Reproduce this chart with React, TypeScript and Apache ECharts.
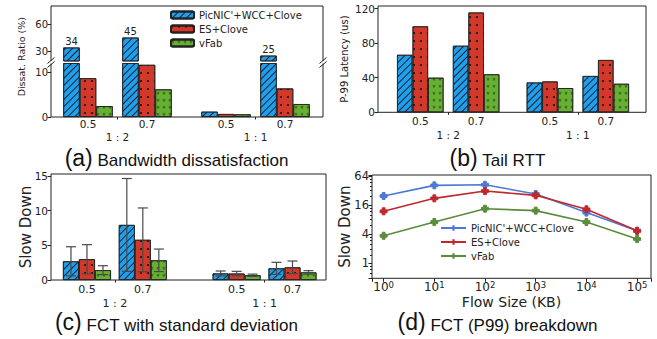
import React, { useEffect, useRef } from 'react';
import * as echarts from 'echarts';

// ---------- data ----------
const METHODS = ["PicNIC'+WCC+Clove", 'ES+Clove', 'vFab'];
const RATIO_LABELS = ['0.5', '0.7', '0.5', '0.7'];
const GROUP_LABELS = ['1 : 2', '1 : 1'];

// (a) Bandwidth dissatisfaction (%)
const dissatPicnic = [34, 45, 1.2, 25];
const dissatEs = [8.7, 11.7, 0.67, 6.4];
const dissatVfab = [2.44, 6.2, 0.6, 2.9];
const dissatUpperTicks = [30, 60];
const dissatLowerTicks = [0, 10];

// (b) Tail RTT (us)
const rttPicnic = [66.5, 77, 34.5, 42];
const rttEs = [99.5, 115.5, 35.7, 60.5];
const rttVfab = [40, 44, 28, 33];
const rttTicks = [0, 40, 80, 120];

// (c) FCT with standard deviation
const fctPicnic = [2.7, 7.95, 0.95, 1.68];
const fctPicnicStd = [2.1, 6.7, 0.35, 0.87];
const fctEs = [3.0, 5.8, 0.93, 1.83];
const fctEsStd = [2.1, 4.6, 0.32, 0.91];
const fctVfab = [1.42, 2.84, 0.68, 1.1];
const fctVfabStd = [0.64, 1.63, 0.17, 0.25];
const fctTicks = [0, 5, 10, 15];

// (d) FCT (P99) breakdown
const flowSizes = [1, 10, 100, 1000, 10000, 100000];
const p99Picnic = [24.7, 41, 42.2, 27.2, 11.2, 4.72];
const p99Es = [11.9, 22.1, 31.3, 25.5, 13.1, 4.7];
const p99Vfab = [3.72, 7.14, 13.5, 12.3, 7.14, 3.18];

// ---------- layout / style ----------
const POS_A = [0, 1, 2.34, 3.34];
const POS_B = [0, 1, 2.32, 3.32];
const POS_C = [0, 1, 2.68, 3.68];
const FONT = 'DejaVu Sans';
const TITLE_FONT = 'Liberation Sans';
const TXT = '#222';
const COLORS = ['#1f9fee', '#d2392b', '#66b032'];
const LINE_COLORS = ['#4d78d6', '#c0282b', '#5a8c3c'];
const STAR =
  'path://M5,0 L6.2,3.5 L10,3.6 L7,5.9 L8.1,9.5 L5,7.4 L1.9,9.5 L3,5.9 L0,3.6 L3.8,3.5 Z';
const PLUS = 'path://M3,0H7V3H10V7H7V10H3V7H0V3H3Z';
const DECALS: any[] = [
  { symbol: 'rect', symbolSize: 1, color: 'rgba(20,20,20,0.9)', dashArrayX: [1, 0], dashArrayY: [1, 3.7], rotation: -Math.PI / 4 },
  { symbol: 'circle', symbolSize: 1, color: 'rgba(15,15,15,0.95)', dashArrayX: [1.6, 4.4], dashArrayY: [1.6, 5.7], rotation: 0 },
  { symbol: STAR, symbolSize: 1, color: 'rgba(10,30,5,0.5)', dashArrayX: [4, 2], dashArrayY: [4, 3], rotation: 0 },
];

const A = { left: 51, right: 323, upTop: 6, upBottom: 61, lowTop: 63.5, lowBottom: 117 };
const A_UP_MIN = 19;

const centres = (pos: number[]) => [(pos[0] + pos[1]) / 2, (pos[2] + pos[3]) / 2];
const labelAt = (pos: number[], v: number, labels: string[]) => {
  let best = 0;
  pos.forEach((p, i) => {
    if (Math.abs(p - v) < Math.abs(pos[best] - v)) best = i;
  });
  return labels[best];
};

function barStyle(k: number) {
  return { color: COLORS[k], borderColor: '#222', borderWidth: 0.8, decal: DECALS[k] };
}

function mainX(gridIndex: number, pos: number[], min: number, max: number, margin: number, fontSize: number) {
  return {
    type: 'value', gridIndex, min, max, position: 'bottom',
    axisLine: { show: false, onZero: false }, splitLine: { show: false },
    axisTick: { show: true, customValues: centres(pos), length: 2.5, lineStyle: { color: TXT } },
    axisLabel: {
      customValues: pos, margin, fontSize, color: TXT, fontFamily: FONT,
      formatter: (v: number) => labelAt(pos, v, RATIO_LABELS),
    },
  };
}
function groupX(gridIndex: number, pos: number[], min: number, max: number, offset: number, fontSize: number, margin: number) {
  const c = centres(pos);
  return {
    type: 'value', gridIndex, min, max, position: 'bottom', offset,
    axisLine: { show: false, onZero: false }, axisTick: { show: false }, splitLine: { show: false },
    axisLabel: {
      customValues: c, margin, fontSize, color: TXT, fontFamily: FONT,
      formatter: (v: number) => labelAt(c, v, GROUP_LABELS),
    },
  };
}
function valY(gridIndex: number, min: number, max: number, ticks: number[], fontSize: number, extra: any = {}) {
  return {
    type: 'value', gridIndex, min, max, position: 'left',
    axisLine: { show: false, onZero: false }, splitLine: { show: false },
    axisTick: { show: true, customValues: ticks, length: 3.5, lineStyle: { color: TXT } },
    axisLabel: { customValues: ticks, fontSize, color: TXT, fontFamily: FONT, margin: 3 },
    nameMoveOverlap: false,
    ...extra,
  };
}

function title(x: number, y: number, tag: string, text: string) {
  return {
    type: 'text', x, y, z: 100,
    style: {
      text: `{p|${tag}}{t| ${text}}`,
      align: 'center', verticalAlign: 'middle', fill: '#111',
      rich: {
        p: { fontSize: 23, fontFamily: TITLE_FONT, fill: '#111', verticalAlign: 'bottom' },
        t: { fontSize: 17, fontFamily: TITLE_FONT, fill: '#111', verticalAlign: 'bottom' },
      },
    },
  };
}

function buildOption(): any {
  const aData = [dissatPicnic, dissatEs, dissatVfab];
  const bData = [rttPicnic, rttEs, rttVfab];
  const cData = [fctPicnic, fctEs, fctVfab];
  const cStd = [fctPicnicStd, fctEsStd, fctVfabStd];
  const dData = [p99Picnic, p99Es, p99Vfab];
  const A_MIN = -0.627, A_MAX = 3.984;
  const B_MIN = -0.757, B_MAX = 4.04;
  const C_MIN = -0.644, C_MAX = 4.28;
  const BW_A = 16.5, BW_B = 15.5, BW_C = 16;

  const series: any[] = [];
  METHODS.forEach((m, k) => {
    series.push({
      type: 'bar', name: m, xAxisIndex: 0, yAxisIndex: 0, barWidth: BW_A, barGap: '0%', clip: true,
      data: aData[k].map((v, i) => [POS_A[i], v]).filter((d) => d[1] > A_UP_MIN),
      itemStyle: barStyle(k),
      label: {
        show: true, position: 'top', distance: 1, fontSize: 10, color: TXT, fontFamily: FONT,
        formatter: (p: any) => String(Math.round(p.value[1])),
      },
    });
    series.push({
      type: 'bar', name: m, xAxisIndex: 1, yAxisIndex: 1, barWidth: BW_A, barGap: '0%', clip: true,
      data: aData[k].map((v, i) => [POS_A[i], v]), itemStyle: barStyle(k),
    });
    series.push({
      type: 'bar', name: m, xAxisIndex: 3, yAxisIndex: 2, barWidth: BW_B, barGap: '0%', clip: true,
      data: bData[k].map((v, i) => [POS_B[i], v]), itemStyle: barStyle(k),
    });
    series.push({
      type: 'bar', name: m, xAxisIndex: 5, yAxisIndex: 3, barWidth: BW_C, barGap: '0%', clip: true,
      data: cData[k].map((v, i) => [POS_C[i], v]), itemStyle: barStyle(k),
    });
  });
  METHODS.forEach((m, k) => {
    const off = (k - 1) * BW_C;
    series.push({
      type: 'custom', name: 'err' + k, xAxisIndex: 5, yAxisIndex: 3, z: 10,
      encode: { x: 0, y: [1, 2] },
      data: cData[k].map((v, i) => [POS_C[i], v - cStd[k][i], v + cStd[k][i]]),
      renderItem: (params: any, api: any) => {
        const x = api.value(0);
        const lo = api.coord([x, api.value(1)]);
        const hi = api.coord([x, api.value(2)]);
        const cx = lo[0] + off;
        const cap = 5;
        const st = { stroke: '#4a4a4a', lineWidth: 1.2 };
        return {
          type: 'group',
          children: [
            { type: 'line', shape: { x1: cx, y1: lo[1], x2: cx, y2: hi[1] }, style: st },
            { type: 'line', shape: { x1: cx - cap, y1: hi[1], x2: cx + cap, y2: hi[1] }, style: st },
            { type: 'line', shape: { x1: cx - cap, y1: lo[1], x2: cx + cap, y2: lo[1] }, style: st },
          ],
        };
      },
    });
  });
  METHODS.forEach((m, k) => {
    series.push({
      type: 'line', name: 'L|' + m, xAxisIndex: 7, yAxisIndex: 4,
      data: flowSizes.map((s, i) => [s, dData[k][i]]),
      symbol: PLUS, symbolSize: 7, showSymbol: true,
      lineStyle: { color: LINE_COLORS[k], width: 1.6 },
      itemStyle: { color: LINE_COLORS[k], borderColor: LINE_COLORS[k] },
      z: 5 + (k === 1 ? 1 : 0),
    });
  });

  const isPow = (v: number, base: number) => {
    const l = Math.log(v) / Math.log(base);
    return Math.abs(l - Math.round(l)) < 1e-6;
  };

  const frame = (pts: number[][]) => ({
    type: 'polyline', z: 50, shape: { points: pts }, style: { stroke: TXT, lineWidth: 1, fill: null },
  });
  const brk = (x: number, y: number) => ({
    type: 'line', z: 60, shape: { x1: x - 3.5, y1: y + 3, x2: x + 3.5, y2: y - 3 }, style: { stroke: TXT, lineWidth: 1 },
  });

  return {
    animation: false,
    textStyle: { fontFamily: FONT, color: TXT },
    grid: [
      { left: A.left, top: A.upTop, width: A.right - A.left, height: A.upBottom - A.upTop, outerBoundsMode: 'none', containLabel: false },
      { left: A.left, top: A.lowTop, width: A.right - A.left, height: A.lowBottom - A.lowTop, outerBoundsMode: 'none', containLabel: false },
      { left: 378, top: 6, width: 268, height: 106.3, show: true, borderColor: TXT, borderWidth: 1, outerBoundsMode: 'none', containLabel: false },
      { left: 51, top: 174, width: 275, height: 106, show: true, borderColor: TXT, borderWidth: 1, outerBoundsMode: 'none', containLabel: false },
      { left: 372, top: 175, width: 279, height: 103.3, show: true, borderColor: TXT, borderWidth: 1, outerBoundsMode: 'none', containLabel: false },
    ],
    xAxis: [
      { type: 'value', gridIndex: 0, min: A_MIN, max: A_MAX, show: false, axisLine: { onZero: false } },
      mainX(1, POS_A, A_MIN, A_MAX, 1, 10.5),
      groupX(1, POS_A, A_MIN, A_MAX, 13, 10.5, 1),
      mainX(2, POS_B, B_MIN, B_MAX, 3, 10.5),
      groupX(2, POS_B, B_MIN, B_MAX, 14, 10.5, 3),
      mainX(3, POS_C, C_MIN, C_MAX, 3.5, 11),
      groupX(3, POS_C, C_MIN, C_MAX, 14, 11, 3.5),
      {
        type: 'log', logBase: 10, gridIndex: 4, min: 0.59, max: 188000,
        axisLine: { show: false, onZero: false }, splitLine: { show: false },
        axisTick: { show: true, length: 3.5, lineStyle: { color: TXT } },
        axisLabel: {
          margin: 2, color: TXT, fontFamily: FONT,
          formatter: (v: number) => (isPow(v, 10) ? `{b|10}{s|${Math.round(Math.log10(v))}}` : ''),
          rich: {
            b: { fontSize: 12, fontFamily: FONT, color: TXT, verticalAlign: 'bottom', lineHeight: 13 },
            s: { fontSize: 8.5, fontFamily: FONT, color: TXT, verticalAlign: 'top', lineHeight: 13 },
          },
        },
        name: 'Flow Size (KB)', nameLocation: 'middle', nameGap: 17, nameMoveOverlap: false,
        nameTextStyle: { fontSize: 14, fontFamily: FONT, color: TXT },
      },
    ],
    yAxis: [
      valY(0, A_UP_MIN, 80, dissatUpperTicks, 10),
      valY(1, 0, 12, dissatLowerTicks, 10),
      valY(2, 0, 123, rttTicks, 10.5, {
        name: 'P-99 Latency (us)', nameLocation: 'middle', nameGap: 29,
        nameTextStyle: { fontSize: 10, fontFamily: FONT, color: TXT },
      }),
      valY(3, 0, 15.3, fctTicks, 10.5, {
        name: 'Slow Down', nameLocation: 'middle', nameGap: 18,
        nameTextStyle: { fontSize: 15, fontFamily: FONT, color: TXT },
      }),
      {
        type: 'log', logBase: 4, gridIndex: 4, min: 0.49, max: 67.2, position: 'left',
        axisLine: { show: false, onZero: false }, splitLine: { show: false },
        axisTick: { show: true, length: 3.5, lineStyle: { color: TXT } },
        minorTick: { show: true, splitNumber: 6, length: 2, lineStyle: { color: TXT } },
        axisLabel: {
          margin: 3, fontSize: 11.5, color: TXT, fontFamily: FONT,
          formatter: (v: number) => (isPow(v, 4) ? String(Math.round(v)) : ''),
        },
        name: 'Slow Down', nameLocation: 'middle', nameGap: 20, nameMoveOverlap: false,
        nameTextStyle: { fontSize: 15, fontFamily: FONT, color: TXT },
      },
    ],
    legend: [
      {
        left: 170, top: 10, orient: 'vertical', padding: 0, itemWidth: 23, itemHeight: 7, itemGap: 4,
        data: METHODS, selectedMode: false,
        textStyle: { fontSize: 10, fontFamily: FONT, color: TXT },
      },
      {
        left: 440, top: 223, orient: 'vertical', padding: 0, itemWidth: 25, itemHeight: 7, itemGap: 4,
        data: METHODS.map((m) => 'L|' + m), selectedMode: false,
        formatter: (n: string) => n.slice(2),
        textStyle: { fontSize: 10, fontFamily: FONT, color: TXT },
      },
    ],
    graphic: [
      frame([[A.left, A.upBottom], [A.left, A.upTop], [A.right, A.upTop], [A.right, A.upBottom]]),
      frame([[A.left, A.lowTop], [A.left, A.lowBottom], [A.right, A.lowBottom], [A.right, A.lowTop]]),
      brk(A.left, A.upBottom - 0.5),
      brk(A.left, A.lowTop + 1),
      brk(A.right, A.upBottom - 0.5),
      brk(A.right, A.lowTop + 1),
      {
        type: 'text', x: 21.5, y: 56.7, rotation: Math.PI / 2,
        style: { text: 'Dissat. Ratio (%)', fontSize: 9.5, fontFamily: FONT, fill: TXT, align: 'center', verticalAlign: 'middle' },
      },
      title(176.5, 157.5, '(a)', 'Bandwidth dissatisfaction'),
      title(497.5, 157.5, '(b)', 'Tail RTT'),
      title(176.5, 322, '(c)', 'FCT with standard deviation'),
      title(497.5, 322, '(d)', 'FCT (P99) breakdown'),
    ],
    series,
  };
}

export default function App() {
  const ref = useRef<HTMLDivElement>(null);
  useEffect(() => {
    document.body.style.margin = '0';
    const chart = echarts.init(ref.current as HTMLDivElement, null, { renderer: 'svg' });
    chart.setOption(buildOption());
    return () => chart.dispose();
  }, []);
  return <div ref={ref} style={{ width: 657, height: 339 }} />;
}
